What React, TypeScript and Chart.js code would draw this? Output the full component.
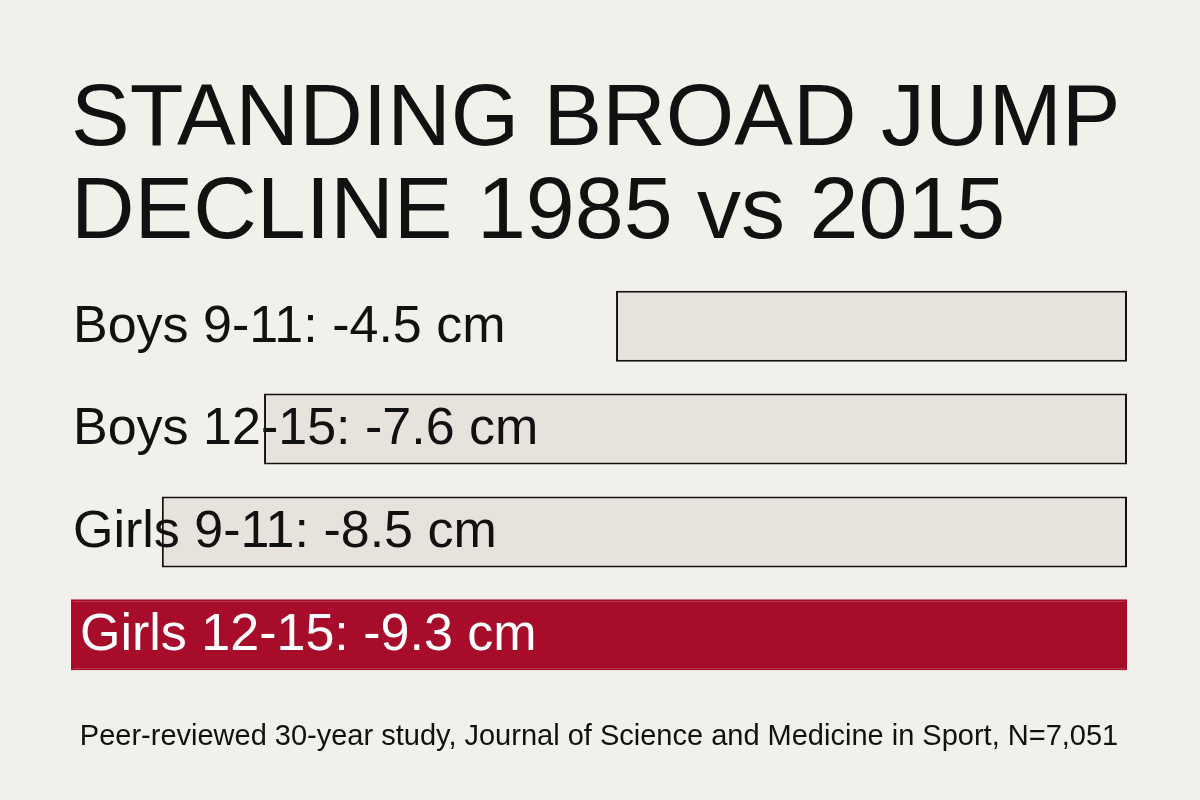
import { useEffect, useRef } from "react";
import { Chart, registerables } from "chart.js";

Chart.register(...registerables);

// data
const GROUPS = ["Boys 9-11", "Boys 12-15", "Girls 9-11", "Girls 12-15"];
const DECLINE_CM = [4.5, 7.6, 8.5, 9.3];
const HIGHLIGHT = [false, false, false, true];
const TITLE_LINES = ["STANDING BROAD JUMP", "DECLINE 1985 vs 2015"];
const SOURCE = "Peer-reviewed 30-year study, Journal of Science and Medicine in Sport, N=7,051";

const BG = "#f2f0eb";
const BAR_GREY = "#e7e3dc";
const BAR_RED = "#a70d2a";
const INK = "#111111";
const FONT = "'Liberation Sans', Arial, Helvetica, sans-serif";

// draws "Boys 9-11: -4.5 cm" over each bar
const barLabels = {
  id: "barLabels",
  afterDatasetsDraw(chart: any) {
    const { ctx, chartArea } = chart;
    const meta = chart.getDatasetMeta(0);
    ctx.save();
    ctx.font = `52px ${FONT}`;
    ctx.textBaseline = "middle";
    ctx.textAlign = "left";
    meta.data.forEach((bar: any, i: number) => {
      const hi = HIGHLIGHT[i];
      ctx.fillStyle = hi ? "#ffffff" : INK;
      const x = chartArea.left + (hi ? 9 : 2);
      ctx.fillText(`${GROUPS[i]}: -${DECLINE_CM[i]} cm`, x, bar.y + 1);
    });
    ctx.restore();
  },
};

const paintBackground = {
  id: "paintBackground",
  beforeDraw(chart: any) {
    const { ctx, width, height } = chart;
    ctx.save();
    ctx.fillStyle = BG;
    ctx.fillRect(0, 0, width, height);
    ctx.restore();
  },
};

export default function App() {
  const canvasRef = useRef<HTMLCanvasElement>(null);

  useEffect(() => {
    if (!canvasRef.current) return;
    const chart = new Chart(canvasRef.current, {
      type: "bar",
      data: {
        labels: GROUPS,
        datasets: [
          {
            data: DECLINE_CM,
            backgroundColor: HIGHLIGHT.map((h) => (h ? BAR_RED : BAR_GREY)),
            borderColor: HIGHLIGHT.map((h) => (h ? BAR_RED : INK)),
            borderWidth: 2,
            borderSkipped: false,
            categoryPercentage: 1,
            barPercentage: 0.69,
          },
        ],
      },
      options: {
        indexAxis: "y",
        animation: false,
        responsive: false,
        devicePixelRatio: 1,
        layout: { padding: { left: 71, right: 73, top: 0, bottom: 0 } },
        scales: {
          x: { type: "linear", reverse: true, min: 0, max: 9.3, display: false },
          y: { display: false },
        },
        plugins: {
          legend: { display: false },
          tooltip: { enabled: false },
          title: {
            display: true,
            text: TITLE_LINES,
            align: "start",
            color: INK,
            font: { family: FONT, size: 88, weight: "normal", lineHeight: 1.05 },
            padding: { top: 75, bottom: 15 },
          },
          subtitle: {
            display: true,
            position: "bottom",
            text: SOURCE,
            align: "center",
            color: INK,
            font: { family: FONT, size: 29, weight: "normal", lineHeight: 1.2 },
            padding: { top: 33, bottom: 46 },
          },
        },
      } as any,
      plugins: [paintBackground, barLabels],
    });
    return () => chart.destroy();
  }, []);

  return (
    <div style={{ position: "fixed", left: 0, top: 0, width: 1200, height: 800, background: BG }}>
      <canvas ref={canvasRef} width={1200} height={800} style={{ display: "block" }} />
    </div>
  );
}
